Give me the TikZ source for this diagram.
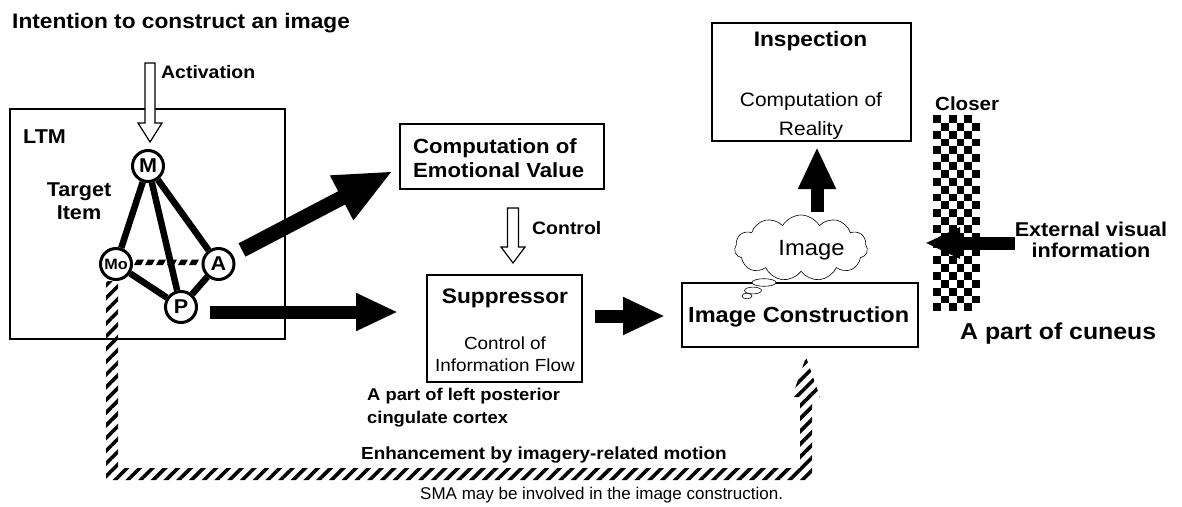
\documentclass[tikz,border=0pt]{standalone}
\usepackage{fontspec}
\setmainfont{Liberation Sans}[FakeStretch=1.08]
\newfontfamily\plainsans{Liberation Sans}
\usetikzlibrary{arrows.meta,shapes.symbols,patterns.meta}

\tikzset{
  lbl/.style={inner sep=0pt, font=\bfseries\fontsize{#1}{#1}\selectfont},
  rlbl/.style={inner sep=0pt, font=\fontsize{#1}{#1}\selectfont},
  box/.style={draw, line width=1.5pt, inner sep=0pt},
  item/.style={circle, draw, line width=3pt, fill=white, minimum size=31pt,
    inner sep=0pt, font=\bfseries\fontsize{20}{20}\selectfont},
  link/.style={line width=6.5pt},
  bigarrow/.style={line width=13pt, -{Triangle[length=42pt,width=35pt]}},
  hatched/.style={pattern={Lines[angle=45,distance=9pt,line width=3.6pt]}},
  hollow/.style={draw, line width=1.2pt, fill=white},
}

\begin{document}
\begin{tikzpicture}[x=1pt,y=-1pt]
\useasboundingbox (0,0) rectangle (1182,506);

% ---- long-term memory and the target item ----
\node[box, minimum width=275pt, minimum height=230pt] (ltm) at (147.5,224) {};
\node[lbl=20, anchor=base west] (ltmlbl) at (23,143) {LTM};
\node[lbl=20, anchor=base] (tgt1) at (79,196) {Target};
\node[lbl=20, anchor=base] (tgt2) at (79,219) {Item};

% weak link between motion and auditory parts: slanted dashes
\foreach \x in {134,145,...,196}{
  \fill (\x,265) -- (\x+3,259.5) -- (\x+10,259.5) -- (\x+7,265) -- cycle;
}

\node[item] (M) at (148,166) {M};
\node[item, font=\bfseries\fontsize{15}{15}\selectfont] (Mo) at (116,264) {Mo};
\node[item] (A) at (218.5,264) {A};
\node[item] (P) at (181,307) {P};

\draw[link] (M) -- (Mo);
\draw[link] (M) -- (P);
\draw[link] (M) -- (A);
\draw[link] (Mo) -- (P);
\draw[link] (P) -- (A);

% ---- intention and activation ----
\node[lbl=21, anchor=base west] (title) at (12,28) {Intention to construct an image};
\draw[hollow] (145,63) -- (155,63) -- (155,123) -- (162,123) -- (150,142)
  -- (138,123) -- (145,123) -- cycle;
\node[lbl=18, anchor=base west] (act) at (161,78) {Activation};

% ---- emotional value ----
\node[box, minimum width=204pt, minimum height=65pt] (emo) at (502,156.5) {};
\node[lbl=20.5, anchor=base west] (emo1) at (413,153) {Computation of};
\node[lbl=20.5, anchor=base west] (emo2) at (413,177) {Emotional Value};
\coordinate (aTail) at (242,250);
\coordinate (emoTip) at (393,171);
\draw[line width=15pt, -{Triangle[length=58pt,width=46pt]}] (aTail) -- (emoTip);

% ---- control and suppressor ----
\draw[hollow] (507.5,208) -- (518.5,208) -- (518.5,247) -- (525,247) -- (513,263)
  -- (501,247) -- (507.5,247) -- cycle;
\node[lbl=18, anchor=base west] (ctl) at (532,234) {Control};

\node[box, minimum width=155pt, minimum height=107pt] (sup) at (504.5,328.5) {};
\node[lbl=21, anchor=base] (sup1) at (505,303) {Suppressor};
\node[rlbl=17.5, anchor=base] (sup2) at (505,349) {Control of};
\node[rlbl=17.5, anchor=base] (sup3) at (505,371) {Information Flow};
\node[lbl=17, anchor=base west] (pcc1) at (367,400) {A part of left posterior};
\node[lbl=17, anchor=base west] (pcc2) at (367,423) {cingulate cortex};

\coordinate (pTail) at (210,312);
\coordinate (supIn) at (398,312);
\draw[bigarrow] (pTail) -- (supIn);

% ---- image construction ----
\node[box, minimum width=236pt, minimum height=64pt] (ic) at (800,315) {};
\node[lbl=21.8, anchor=base west] (iclbl) at (688,322) {Image Construction};
\coordinate (supOut) at (595,316);
\coordinate (icIn) at (665,316);
\draw[bigarrow] (supOut) -- (icIn);

\node[cloud, draw, fill=white, line width=0.6pt, cloud puffs=11, cloud puff arc=120,
  aspect=2.1, minimum width=133pt, minimum height=66pt, inner sep=0pt] (cloud) at (801,248) {};
\node[rlbl=22, anchor=base] (imglbl) at (811.5,255) {Image};
\draw[line width=0.6pt, fill=white] (764,282.5) ellipse [x radius=12pt, y radius=3.8pt];
\draw[line width=0.6pt, fill=white] (753,290.5) ellipse [x radius=8.5pt, y radius=3.4pt];
\draw[line width=0.6pt, fill=white] (747,296) ellipse [x radius=5pt, y radius=2.8pt];

% ---- inspection ----
\node[box, minimum width=199pt, minimum height=118pt] (insp) at (811.5,82) {};
\node[lbl=21, anchor=base] (insp1) at (810.5,46) {Inspection};
\node[rlbl=19.4, anchor=base] (insp2) at (811,106) {Computation of};
\node[rlbl=19.4, anchor=base] (insp3) at (811,135) {Reality};
\coordinate (cloudTop) at (817,212);
\coordinate (inspIn) at (817,147);
\draw[bigarrow] (cloudTop) -- (inspIn);

% ---- cuneus ----
\node[lbl=19, anchor=base west] (closer) at (935,110) {Closer};
\foreach \r in {0,...,24}{
  \foreach \c in {0,2,4}{
    \pgfmathtruncatemacro{\cc}{\c+mod(\r,2)}
    \fill (933+\cc*7.85, 115+\r*7.85) rectangle ++(7.85,7.85);
  }
}
\coordinate (extTail) at (1015,243);
\coordinate (extTip) at (925,243);
\draw[line width=13pt, -{Triangle[length=35pt,width=29pt]}] (extTail) -- (extTip);
\node[lbl=20, anchor=base] (ext1) at (1091,236) {External visual};
\node[lbl=20, anchor=base] (ext2) at (1091,257) {information};
\node[lbl=23, anchor=base west] (cun) at (960,339) {A part of cuneus};

% ---- motor enhancement path ----
\fill[hatched] (106,281) -- (118,281) -- (118,468) -- (800,468) -- (800,397)
  -- (792,397) -- (806,357) -- (820,397) -- (812,397) -- (812,480) -- (106,480) -- cycle;
\node[lbl=17.5, anchor=base west] (enh) at (361,459) {Enhancement by imagery-related motion};
\node[inner sep=0pt, font=\plainsans\fontsize{17}{17}\selectfont, anchor=base west] (sma)
  at (420,499) {SMA may be involved in the image construction.};

\end{tikzpicture}
\end{document}
